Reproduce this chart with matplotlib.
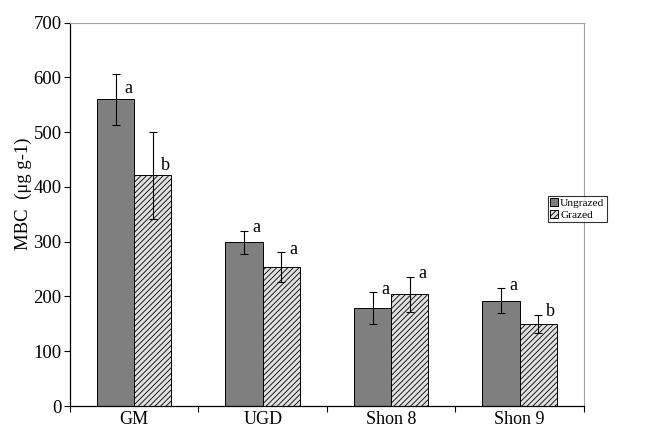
import numpy as np
import matplotlib.pyplot as plt

# --- dados ---
sites = ['GM', 'UGD', 'Shon 8', 'Shon 9']
ungrazed = [560, 299, 179, 192]
ungrazed_err = [46, 21, 29, 23]
grazed = [421, 254, 204, 150]
grazed_err = [79, 27, 32, 17]
letters_ungrazed = ['a', 'a', 'a', 'a']
letters_grazed = ['b', 'a', 'a', 'b']

plt.rcParams['font.family'] = ['Liberation Serif', 'DejaVu Serif']
plt.rcParams['hatch.linewidth'] = 0.6
plt.rcParams['hatch.color'] = '#404040'

fig = plt.figure(figsize=(6.51, 4.28), dpi=100)
ax = fig.add_axes([0.1075, 0.0514, 0.7895, 0.8956])

x = np.arange(len(sites))
w = 0.29

b1 = ax.bar(x - w / 2, ungrazed, w, color='#7f7f7f', edgecolor='black',
            linewidth=0.7, label='Ungrazed')
b2 = ax.bar(x + w / 2, grazed, w, color='#e0e0e0', edgecolor='black',
            linewidth=0.7, hatch='//////', label='Grazed')
ax.errorbar(x - w / 2, ungrazed, yerr=ungrazed_err, fmt='none',
            ecolor='black', elinewidth=0.8, capsize=3, capthick=0.8)
ax.errorbar(x + w / 2, grazed, yerr=grazed_err, fmt='none',
            ecolor='black', elinewidth=0.8, capsize=3, capthick=0.8)

# letras de significância (GM ficam um pouco abaixo do topo do erro)
drop = [10, -2, -2, -2]
drop_g = [24, -2, -2, -2]
for i in range(len(sites)):
    ax.annotate(letters_ungrazed[i], (x[i] - w / 2, ungrazed[i] + ungrazed_err[i]),
                xytext=(9, -drop[i]), textcoords='offset points',
                ha='center', va='center', fontsize=13)
    ax.annotate(letters_grazed[i], (x[i] + w / 2, grazed[i] + grazed_err[i]),
                xytext=(9, -drop_g[i]), textcoords='offset points',
                ha='center', va='center', fontsize=13)

ax.set_xlim(-0.5, len(sites) - 0.5)
ax.set_ylim(0, 700)
ax.set_yticks(range(0, 701, 100))
ax.set_xticks(x)
ax.set_xticklabels(sites, fontsize=13)
ax.set_xticks(np.arange(-0.5, len(sites), 1), minor=True)
ax.tick_params(axis='x', which='major', length=0, pad=3.5)
ax.tick_params(axis='x', which='minor', length=4, direction='out', width=0.8)
ax.tick_params(axis='y', labelsize=13.5, length=4, direction='out', width=0.8, pad=2)
ax.set_ylabel('MBC  (μg g-1)', fontsize=13.5)
ax.yaxis.set_label_coords(-0.074, 0.555)

for s in ['top', 'right']:
    ax.spines[s].set_color('#a0a0a0')
    ax.spines[s].set_linewidth(0.8)
for s in ['left', 'bottom']:
    ax.spines[s].set_linewidth(0.9)

leg = fig.legend(handles=[b1, b2], loc='upper left',
                 bbox_to_anchor=(0.842, 0.543), fontsize=8.2,
                 frameon=True, fancybox=False, edgecolor='black',
                 handlelength=0.7, handleheight=0.7, handletextpad=0.15,
                 borderpad=0.2, labelspacing=0.15, borderaxespad=0)
leg.get_frame().set_linewidth(0.8)

plt.savefig('out.png', dpi=100)
